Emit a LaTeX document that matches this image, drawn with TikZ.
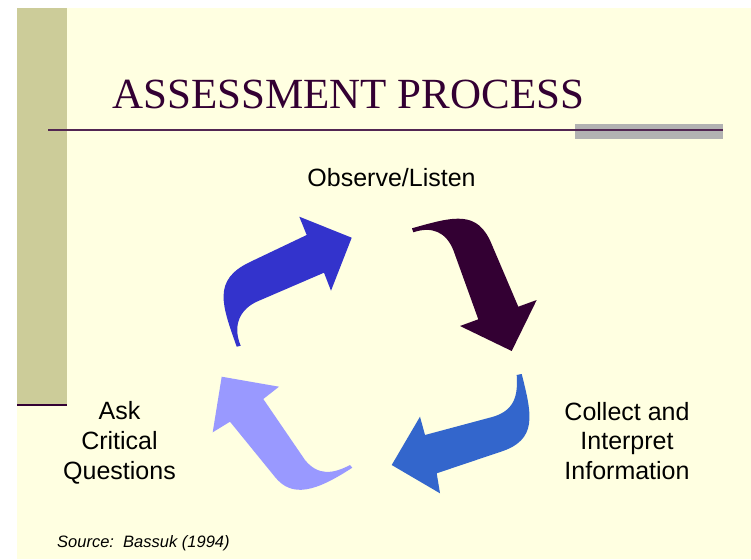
\documentclass[tikz,border=0pt]{standalone}
\usepackage{fontspec}
\setmainfont{Liberation Serif}
\setsansfont{Liberation Sans}
\usetikzlibrary{positioning}
\definecolor{paper}{HTML}{FFFFE1}
\definecolor{sidebar}{HTML}{CCCC99}
\definecolor{plum}{HTML}{330033}
\definecolor{rulegrey}{HTML}{B2B2B2}
\definecolor{royal}{HTML}{3333CC}
\definecolor{steel}{HTML}{3366CC}
\definecolor{lilac}{HTML}{9999FF}

\begin{document}
\begin{tikzpicture}[x=1pt,y=-1pt,
  label/.style={inner sep=0,align=center,font=\sffamily\fontsize{25}{29.8}\selectfont}]
\useasboundingbox (0,0) rectangle (751,559);
\fill[white] (0,0) rectangle (751,559);
\fill[paper] (17,8) rectangle (751,559);
\fill[sidebar] (17,8) rectangle (67,404);
\draw[plum,line width=2.5pt] (17,405) -- (67,405);
\fill[rulegrey] (575,124) rectangle (723,139);
\draw[plum!85!white,line width=2pt] (48,130) -- (723,130);
\node[anchor=base west,inner sep=0,text=plum,font=\fontsize{43}{48}\selectfont] (title) at (112,108) {ASSESSMENT PROCESS};

\node[label,anchor=base] (0) at (391.5,186.5) {Observe/Listen};
\node[label] (1) at (627,441) {Collect and\\Interpret\\Information};
\node[label] (2) at (119.5,443) {Ask\\Critical\\Questions};
\node[anchor=base west,inner sep=0,font=\sffamily\itshape\fontsize{16.5}{20}\selectfont] (src) at (57,547) {Source:\ \ Bassuk (1994)};

\fill[royal] (236.7,346.7) .. controls (222,305) and (212,280) .. (250,262) -- (306.7,235)
  -- (299.3,216.7) -- (351.7,237.7) -- (331,290.7) -- (324,272.7) -- (256,302)
  .. controls (236,312) and (234,330) .. (240.7,345.7) -- cycle;
\fill[plum] (412,228.3) .. controls (455,216) and (478,210) .. (492,245) -- (518.3,306.7)
  -- (536.7,300) -- (511.7,351) -- (460,326) -- (478.3,319.3) -- (453.3,250)
  .. controls (446,232) and (432,226) .. (413.3,232.3) -- cycle;
\fill[steel] (521.7,374) .. controls (532,415) and (538,440) .. (500,452) -- (436.7,473.3)
  -- (440,493.3) -- (391.7,465) -- (420,416.7) -- (425,435) -- (493.3,416.7)
  .. controls (515,410) and (518,395) .. (516.7,375) -- cycle;
\fill[lilac] (352.3,467.7) .. controls (315,492) and (292,498) .. (275,477) -- (230,421.7)
  -- (212.7,432.3) -- (221.7,376.7) -- (279,386.7) -- (263.3,399) -- (305,460)
  .. controls (318,476) and (333,474) .. (350,465) -- cycle;
\end{tikzpicture}
\end{document}
